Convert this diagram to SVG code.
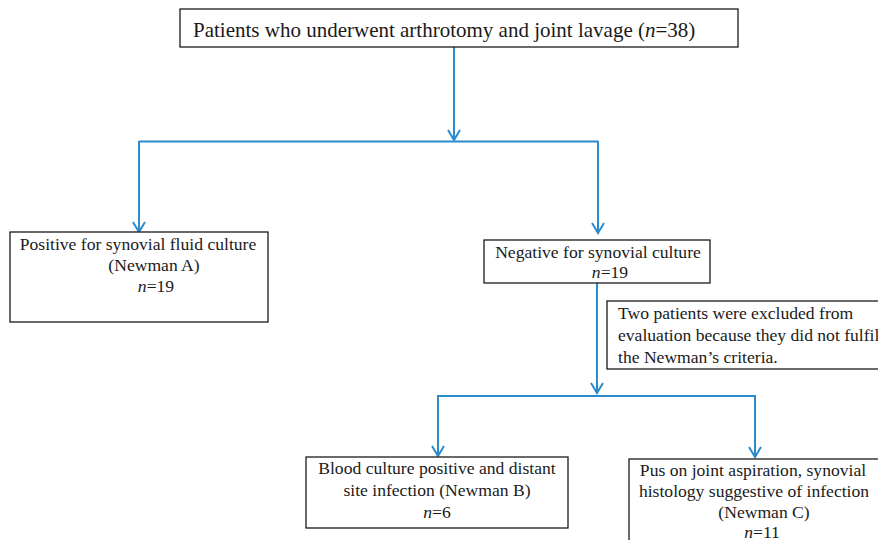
<svg xmlns="http://www.w3.org/2000/svg" width="878" height="540" viewBox="0 0 878 540">
<defs>
<style>
.box{fill:#fff;stroke:#1a1a1a;stroke-width:1.3}
.t{font-family:"Liberation Serif","Times New Roman",serif;font-size:17.6px;fill:#1a1a1a}
.big{font-size:21px}
.c{text-anchor:middle}
.ln{fill:none;stroke:#2b8bcc;stroke-width:2}
.ah{fill:none;stroke:#2b8bcc;stroke-width:2;stroke-linejoin:miter}
</style>
</defs>
<rect width="878" height="540" fill="#fff"/>
<g id="connectors">
<path class="ln" d="M454,47 V140"/>
<path class="ah" d="M448,130 L454,140 L460,130"/>
<path class="ln" d="M139,141.5 H598"/>
<path class="ln" d="M139,141 V232"/>
<path class="ah" d="M133,222 L139,232 L145,222"/>
<path class="ln" d="M598,141 V233"/>
<path class="ah" d="M592,223 L598,233 L604,223"/>
<path class="ln" d="M597,283 V393"/>
<path class="ah" d="M591,383 L597,393 L603,383"/>
<path class="ln" d="M438,396 H755"/>
<path class="ln" d="M438,395 V456"/>
<path class="ah" d="M432,446 L438,456 L444,446"/>
<path class="ln" d="M755,395 V457"/>
<path class="ah" d="M749,447 L755,457 L761,447"/>
</g>
<g id="n-top">
<rect class="box" x="180" y="9" width="558" height="38"/>
<text class="t big" x="193" y="37">Patients who underwent arthrotomy and joint lavage (<tspan font-style="italic">n</tspan>=38)</text>
</g>
<g id="n-posA">
<rect class="box" x="10" y="232" width="258" height="90"/>
<text class="t c" x="138" y="250">Positive for synovial fluid culture</text>
<text class="t c" x="154" y="271">(Newman A)</text>
<text class="t c" x="156" y="292"><tspan font-style="italic">n</tspan>=19</text>
</g>
<g id="n-neg">
<rect class="box" x="484" y="240" width="226" height="43"/>
<text class="t c" x="598" y="258">Negative for synovial culture</text>
<text class="t c" x="610" y="278"><tspan font-style="italic">n</tspan>=19</text>
</g>
<g id="n-excl">
<rect class="box" x="607" y="301" width="290" height="68"/>
<text class="t" x="618" y="319">Two patients were excluded from</text>
<text class="t" x="618" y="341">evaluation because they did not fulfil</text>
<text class="t" x="618" y="363">the Newman’s criteria.</text>
</g>
<g id="n-B">
<rect class="box" x="306" y="457" width="262" height="71"/>
<text class="t c" x="437" y="474">Blood culture positive and distant</text>
<text class="t c" x="437" y="496">site infection (Newman B)</text>
<text class="t c" x="437" y="518"><tspan font-style="italic">n</tspan>=6</text>
</g>
<g id="n-C">
<rect class="box" x="629" y="459" width="270" height="100"/>
<text class="t c" x="753" y="476">Pus on joint aspiration, synovial</text>
<text class="t c" x="754" y="497">histology suggestive of infection</text>
<text class="t c" x="764" y="518">(Newman C)</text>
<text class="t c" x="762" y="538"><tspan font-style="italic">n</tspan>=11</text>
</g>
</svg>
